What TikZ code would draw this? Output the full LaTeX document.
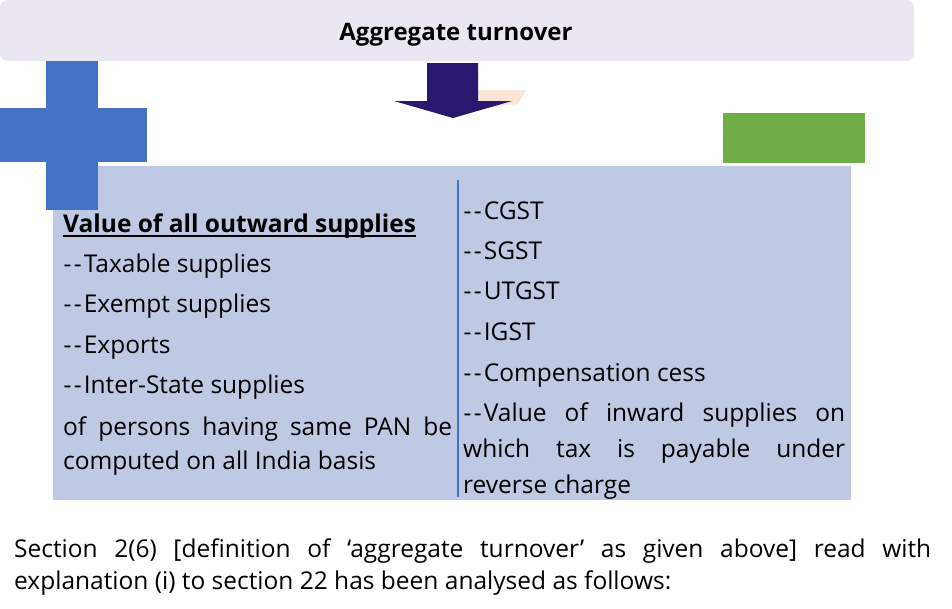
\documentclass[tikz,border=0pt]{standalone}
\usepackage{fontspec}
\setmainfont{Open Sans}
\definecolor{titlebg}{HTML}{EAE7F3}
\definecolor{plusblue}{HTML}{4472C4}
\definecolor{arrownavy}{HTML}{2A186E}
\definecolor{shadowpeach}{HTML}{FBE5D6}
\definecolor{okgreen}{HTML}{70AD47}
\definecolor{boxblue}{HTML}{BFC9E3}
\newcommand\twohy{\kern0.5pt-\kern2.2pt-\kern2.2pt}

\begin{document}
\begin{tikzpicture}[x=1pt,y=-1pt,line join=miter,
    txt/.style={anchor=base west,inner sep=0pt,font=\fontsize{24.5}{30}\selectfont},
    txtb/.style={txt,font=\fontsize{24.5}{30}\selectfont\bfseries}]
  \useasboundingbox (0,0) rectangle (952,608);
  % heading bar
  \fill[titlebg,rounded corners=8pt] (0,0) rectangle (914,61);
  \node[txtb,anchor=base,font=\fontsize{24}{30}\selectfont\bfseries] (head) at (456,40.5) {Aggregate turnover};
  % down arrow and its shadow
  \fill[shadowpeach] (470,90) -- (526,90) -- (518,104) -- (460,110) -- (408,105) -- cycle;
  \fill[arrownavy] (427,63) -- (478,63) -- (478,101) -- (512,101) -- (453,118)
    -- (394,101) -- (427,101) -- cycle;
  % box, minus and plus
  \fill[boxblue] (53,166) rectangle (851,500);
  \fill[okgreen] (723,113) rectangle (865,163);
  \fill[plusblue] (46,61) rectangle (98,210);
  \fill[plusblue] (0,108) rectangle (147,162);
  \draw[plusblue,line width=2pt] (457.5,180) -- (457.5,497);
  % left column
  \node[txtb] (outw) at (63,232.5) {Value of all outward supplies};
  \draw[line width=1.5pt] ([yshift=-3.5pt]outw.base west) -- ([yshift=-3.5pt]outw.base east);
  \foreach \entry/\ybase [count=\i] in {Taxable supplies/272.7,Exempt supplies/312.7,
      Exports/353,Inter-State supplies/393}
    \node[txt] (lft\i) at (63,\ybase) {\twohy\entry};
  \node[txt] (pan) at (63,435) {\makebox[389pt][s]{of persons having same PAN be}};
  \node[txt] (basis) at (63,469) {computed on all India basis};
  % right column
  \foreach \entry/\ybase [count=\i] in {CGST/219,SGST/259,UTGST/299,IGST/340,
      Compensation cess/381}
    \node[txt] (rgt\i) at (463,\ybase) {\twohy\entry};
  \node[txt] (inw1) at (463,421) {\makebox[382pt][s]{\twohy Value of inward supplies on}};
  \node[txt] (inw2) at (463,457) {\makebox[382pt][s]{which tax is payable under}};
  \node[txt] (inw3) at (463,493) {reverse charge};
  % text below
  \node[txt] (sec1) at (14,557) {\makebox[917pt][s]{Section 2(6) [definition of ‘aggregate turnover’ as given above] read with}};
  \node[txt] (sec2) at (14,589) {explanation (i) to section 22 has been analysed as follows:};
\end{tikzpicture}
\end{document}
